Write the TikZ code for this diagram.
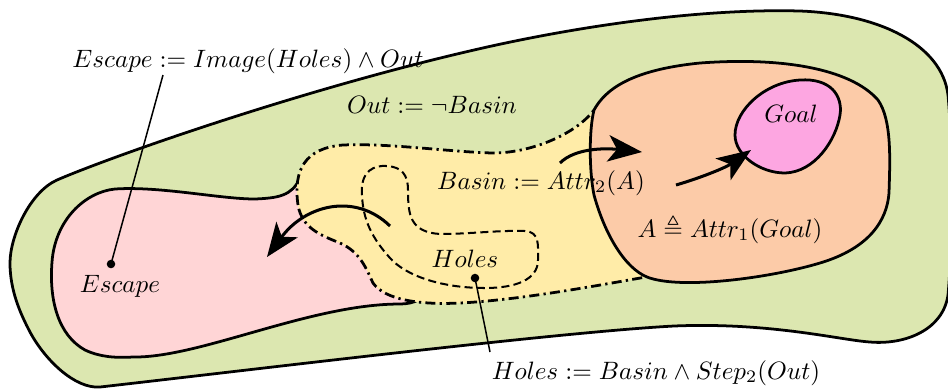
\documentclass[tikz,border=0pt]{standalone}
\usepackage{amssymb}
\usetikzlibrary{arrows.meta}
\definecolor{outgreen}{RGB}{220,231,176}
\definecolor{escpink}{RGB}{255,213,214}
\definecolor{basinyellow}{RGB}{255,236,168}
\definecolor{attrorange}{RGB}{252,203,168}
\definecolor{goalpink}{RGB}{253,166,225}
\begin{document}
\begin{tikzpicture}[x=0.398pt,y=-0.398pt,
  region/.style={draw=black,line width=1.1pt},
  basinline/.style={draw=black,line width=1.1pt,dash pattern=on 4pt off 1.7pt on 0.9pt off 1.7pt},
  holesline/.style={draw=black,line width=0.8pt,dash pattern=on 3.2pt off 1.7pt},
  flow/.style={line width=1.2pt,-{Stealth[length=13.5pt,width=10.5pt,inset=3.5pt]}},
  pointer/.style={line width=0.6pt},
  lbl/.style={anchor=base,inner sep=0pt}]
\useasboundingbox (0,0) rectangle (948,388);
\clip (0,0) rectangle (948,388);
% outer region
\draw[region,fill=outgreen]
  (57,180) .. controls (110,157) and (300,90) .. (474,50)
  .. controls (560,30) and (690,8) .. (800,11)
  .. controls (880,14) and (942,45) .. (948,95)
  .. controls (953,150) and (953,240) .. (948,295)
  .. controls (943,330) and (905,345) .. (870,342)
  .. controls (840,340) and (770,322) .. (674,326)
  .. controls (560,332) and (250,370) .. (100,387)
  .. controls (75,389) and (45,360) .. (30,332)
  .. controls (20,313) and (10,290) .. (10,263)
  .. controls (10,236) and (30,192) .. (57,180) -- cycle;
% escape region
\draw[region,fill=escpink]
  (300,178) .. controls (292,196) and (278,198) .. (255,199)
  .. controls (220,199) and (160,186) .. (115,189)
  .. controls (85,192) and (55,220) .. (52,262)
  .. controls (49,300) and (58,335) .. (85,350)
  .. controls (100,357) and (115,358) .. (133,357)
  .. controls (200,358) and (310,304) .. (400,304)
  .. controls (430,304) and (440,280) .. (420,250)
  .. controls (400,215) and (330,185) .. (300,178) -- cycle;
% basin region
\draw[basinline,fill=basinyellow]
  (298,205) .. controls (293,170) and (305,148) .. (343,145)
  .. controls (390,143) and (450,152) .. (493,153)
  .. controls (530,153) and (575,135) .. (594,110)
  .. controls (615,100) and (670,220) .. (646,277)
  .. controls (600,285) and (520,300) .. (460,303)
  .. controls (420,305) and (385,300) .. (373,283)
  .. controls (366,268) and (360,252) .. (340,243)
  .. controls (320,235) and (302,228) .. (298,205) -- cycle;
% attractor region
\draw[region,fill=attrorange]
  (594,110) .. controls (605,90) and (630,70) .. (700,63)
  .. controls (780,57) and (850,68) .. (878,100)
  .. controls (892,120) and (890,160) .. (889,193)
  .. controls (887,220) and (870,248) .. (820,263)
  .. controls (770,278) and (680,290) .. (647,277)
  .. controls (625,268) and (605,235) .. (594,195)
  .. controls (589,170) and (589,130) .. (594,110) -- cycle;
% goal region
\draw[region,fill=goalpink]
  (735,135) .. controls (735,110) and (765,82) .. (800,80)
  .. controls (830,78) and (843,95) .. (840,115)
  .. controls (836,140) and (815,172) .. (785,173)
  .. controls (760,173) and (735,155) .. (735,135) -- cycle;
% holes
\draw[holesline]
  (362,195) .. controls (360,170) and (375,165) .. (387,166)
  .. controls (402,167) and (408,175) .. (408,190)
  .. controls (408,215) and (410,232) .. (440,234)
  .. controls (470,234) and (500,230) .. (525,231)
  .. controls (540,232) and (538,245) .. (538,260)
  .. controls (538,280) and (515,288) .. (485,288)
  .. controls (440,288) and (405,275) .. (390,258)
  .. controls (372,238) and (363,220) .. (362,195) -- cycle;
% labels
\node[lbl] (esclbl) at (248,67) {$Escape := Image(Holes) \wedge Out$};
\node[lbl] (outlbl) at (432,113) {$Out := \neg Basin$};
\node[lbl] (basinlbl) at (541,189) {$Basin := Attr_2(A)$};
\node[lbl] (alabel) at (730,237) {$A \triangleq Attr_1(Goal)$};
\node[lbl] (goallbl) at (791,122) {$Goal$};
\node[lbl] (holeslbl) at (465,267) {$Holes$};
\node[lbl] (escin) at (120,292) {$Escape$};
\node[lbl] (holesdef) at (656,379) {$Holes := Basin \wedge Step_2(Out)$};
% pointers
\coordinate (escstart) at (163,75);
\coordinate (escdot) at (111,264);
\coordinate (holesdot) at (475,278);
\coordinate (holesend) at (490,352);
\draw[pointer] (escstart) -- (escdot);
\fill (escdot) circle[radius=1.7pt];
\draw[pointer] (holesdot) -- (holesend);
\fill (holesdot) circle[radius=1.7pt];
% flows
\coordinate (f1a) at (390,226);
\coordinate (f1b) at (267,257);
\draw[flow] (f1a) .. controls (355,192) and (305,205) .. (f1b);
\coordinate (f2a) at (560,163);
\coordinate (f2b) at (642,152);
\draw[flow] (f2a) .. controls (575,148) and (605,148) .. (f2b);
\coordinate (f3a) at (676,185);
\coordinate (f3b) at (751,150);
\draw[flow] (f3a) .. controls (700,178) and (725,168) .. (f3b);
\end{tikzpicture}
\end{document}
